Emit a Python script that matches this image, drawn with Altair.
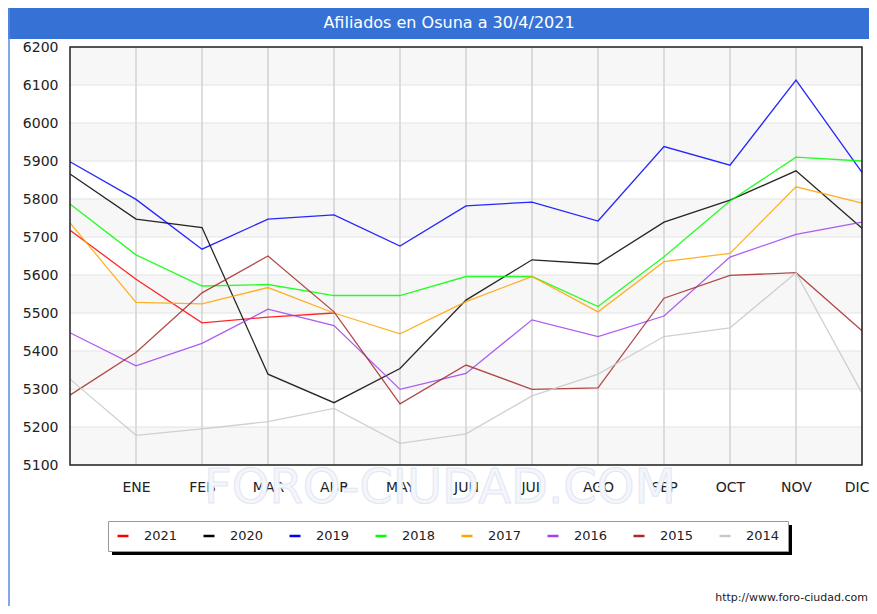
import json
import altair as alt
import pandas as pd

# ---------------- data ----------------
months = ["", "ENE", "FEB", "MAR", "ABR", "MAY", "JUN", "JUL", "AGO", "SEP", "OCT", "NOV", "DIC"]
years = ["2021", "2020", "2019", "2018", "2017", "2016", "2015", "2014"]
colors = ["#ff0000", "#000000", "#0000ff", "#00ff00", "#ffa500", "#a040f0", "#a52a2a", "#c8c8c8"]

v2021 = [5718, 5589, 5474, 5489, 5500]
v2020 = [5866, 5747, 5725, 5339, 5264, 5354, 5534, 5640, 5629, 5739, 5797, 5874, 5723]
v2019 = [5898, 5799, 5668, 5747, 5758, 5676, 5782, 5792, 5742, 5938, 5889, 6113, 5870]
v2018 = [5787, 5653, 5571, 5575, 5546, 5546, 5596, 5596, 5517, 5648, 5795, 5910, 5900]
v2017 = [5737, 5528, 5524, 5567, 5500, 5445, 5530, 5596, 5503, 5635, 5657, 5832, 5789]
v2016 = [5448, 5361, 5420, 5510, 5467, 5299, 5341, 5482, 5438, 5492, 5647, 5707, 5739]
v2015 = [5284, 5396, 5553, 5650, 5503, 5261, 5363, 5299, 5303, 5539, 5599, 5606, 5453]
v2014 = [5326, 5178, 5195, 5214, 5249, 5157, 5182, 5282, 5339, 5438, 5461, 5606, 5289]

y_ticks = [5100, 5200, 5300, 5400, 5500, 5600, 5700, 5800, 5900, 6000, 6100, 6200]
band_lo = [6100, 5900, 5700, 5500, 5300, 5100]
band_hi = [6200, 6000, 5800, 5600, 5400, 5200]

title_text = "Afiliados en Osuna a 30/4/2021"
url_text = "http://www.foro-ciudad.com"
watermark = "FORO-CIUDAD.COM"

series = {"2021": v2021, "2020": v2020, "2019": v2019, "2018": v2018,
          "2017": v2017, "2016": v2016, "2015": v2015, "2014": v2014}
rows = []
for yr, vals in series.items():
    for i, v in enumerate(vals):
        rows.append({"year": yr, "m": i, "value": v})
df = pd.DataFrame(rows)
df_bands = pd.DataFrame({"lo": band_lo, "hi": band_hi})
df_hgrid = pd.DataFrame({"v": y_ticks})
df_vgrid = pd.DataFrame({"m": list(range(1, len(months)))})
one = pd.DataFrame({"a": [0]})

W, H = 792, 418
PAD_L, PAD_T, PAD_R, PAD_B = 62, 39, 7, 141
FONT = "DejaVu Sans"

xscale = alt.Scale(domain=[0, 12], nice=False, zero=False)
yscale = alt.Scale(domain=[5100, 6200], nice=False, zero=False)

label_expr = json.dumps(months) + "[datum.value]"

x_axis = alt.Axis(values=list(range(1, 13)), labelExpr=label_expr, title=None,
                  ticks=False, domain=False, grid=False, labelPadding=15,
                  labelFontSize=14, labelFont=FONT, labelColor="#222",
                  labelFlush=True, labelFlushOffset=7, labelOverlap=False)
y_axis = alt.Axis(values=y_ticks, format="d", title=None, ticks=False,
                  domain=False, grid=False, labelPadding=12, labelFontSize=14,
                  labelFont=FONT, labelColor="#222", labelOverlap=False)

# decorative frame pieces
title_bar = alt.Chart(one).mark_rect(color="#3672d6").encode(
    x=alt.value(-PAD_L), x2=alt.value(W + PAD_R), y=alt.value(-PAD_T), y2=alt.value(-8))
left_line = alt.Chart(one).mark_rule(color="#5a8ae0", strokeWidth=1.5).encode(
    x=alt.value(-PAD_L + 1), y=alt.value(-PAD_T), y2=alt.value(H + PAD_B))
title = alt.Chart(one).mark_text(text=title_text, color="white", font=FONT,
                                 fontSize=16, align="center", baseline="middle").encode(
    x=alt.value(379), y=alt.value(-24))
wm = alt.Chart(one).mark_text(text=watermark, color="#f4f6fb", stroke="#e2e7f4",
                              strokeWidth=1, font=FONT, fontSize=48,
                              align="center", baseline="middle").encode(
    x=alt.value(370), y=alt.value(442))
url = alt.Chart(one).mark_text(text=url_text, color="#222", font=FONT,
                               fontSize=11, align="right", baseline="middle").encode(
    x=alt.value(798), y=alt.value(551))
shadow = alt.Chart(one).mark_rect(color="black").encode(
    x=alt.value(42), x2=alt.value(722), y=alt.value(478), y2=alt.value(508))

bands = alt.Chart(df_bands).mark_rect(color="#f7f7f7").encode(
    y=alt.Y("lo:Q", scale=yscale, axis=y_axis), y2="hi:Q",
    x=alt.value(0), x2=alt.value(W))
hgrid = alt.Chart(df_hgrid).mark_rule(color="#e3e3e3", strokeWidth=1).encode(
    y=alt.Y("v:Q", scale=yscale, axis=y_axis), x=alt.value(0), x2=alt.value(W))
vgrid = alt.Chart(df_vgrid).mark_rule(color="#d2d2d2", strokeWidth=1.5).encode(
    x=alt.X("m:Q", scale=xscale, axis=x_axis), y=alt.value(0), y2=alt.value(H))

lines = alt.Chart(df).mark_line(strokeWidth=1.3, opacity=0.85).encode(
    x=alt.X("m:Q", scale=xscale, axis=x_axis),
    y=alt.Y("value:Q", scale=yscale, axis=y_axis),
    color=alt.Color("year:N", scale=alt.Scale(domain=years, range=colors),
                    legend=alt.Legend(title=None, orient="none", legendX=38, legendY=474,
                                      direction="horizontal", columns=8,
                                      symbolType="stroke", symbolSize=121,
                                      symbolStrokeWidth=2.5, symbolOpacity=1,
                                      labelFont=FONT,
                                      labelFontSize=13, labelColor="#222",
                                      labelOffset=14, columnPadding=20, padding=8,
                                      fillColor="white", strokeColor="#999",
                                      rowPadding=0)),
    order=alt.Order("m:Q"),
)

frame = alt.Chart(one).mark_rect(fillOpacity=0, stroke="#222", strokeWidth=1.5).encode(
    x=alt.value(0), x2=alt.value(W), y=alt.value(0), y2=alt.value(H))

chart = alt.layer(title_bar, left_line, title, wm, url, shadow, bands, hgrid, vgrid,
                  lines, frame).properties(
    width=W, height=H,
    autosize=alt.AutoSizeParams(type="none"),
    padding={"left": PAD_L, "top": PAD_T, "right": PAD_R, "bottom": PAD_B},
    background="white",
).resolve_scale(x="shared", y="shared").configure_view(stroke=None)

chart.save("out.html", embed_options={"renderer": "svg", "actions": False})
